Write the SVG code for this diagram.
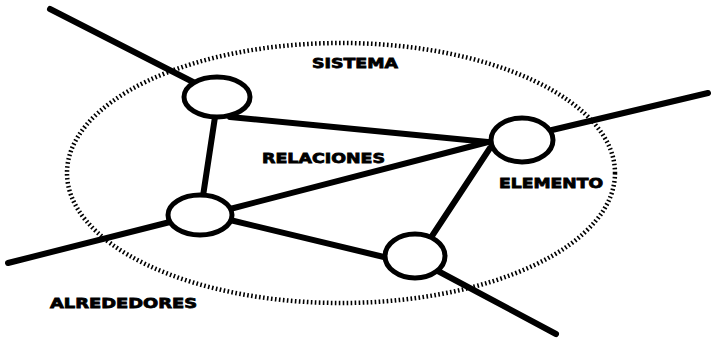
<svg xmlns="http://www.w3.org/2000/svg" width="714" height="339" viewBox="0 0 714 339">
<style>
.bg{fill:#fff}
.sys{fill:none;stroke:#000;stroke-width:4.5;stroke-dasharray:1.6 2.4}
.c{stroke:#000;stroke-width:6;stroke-linecap:round;fill:none}
.n{fill:#fff;stroke:#000;stroke-width:5}
.t{font-family:"DejaVu Sans","Liberation Sans",sans-serif;font-weight:bold;font-size:14px;fill:#000;stroke:#000;stroke-width:0.8}
</style>
<rect class="bg" x="0" y="0" width="714" height="339"/>
<g id="sistema">
<ellipse class="sys" cx="341" cy="173" rx="274" ry="130"/>
<text class="t" x="312" y="68" textLength="86" lengthAdjust="spacingAndGlyphs">SISTEMA</text>
</g>
<g id="connectors">
<line class="c" x1="50" y1="9" x2="195" y2="83"/>
<line class="c" x1="230" y1="117" x2="488" y2="142"/>
<line class="c" x1="215" y1="117" x2="203" y2="196"/>
<line class="c" x1="230" y1="209" x2="488" y2="142"/>
<line class="c" x1="230" y1="220" x2="388" y2="258"/>
<line class="c" x1="490" y1="148" x2="432" y2="236"/>
<line class="c" x1="436" y1="270" x2="556" y2="334"/>
<line class="c" x1="552" y1="130" x2="708" y2="93"/>
<line class="c" x1="170" y1="222" x2="8" y2="263"/>
</g>
<g id="node-1"><ellipse class="n" cx="217" cy="97" rx="33" ry="20"/></g>
<g id="node-elemento"><ellipse class="n" cx="522" cy="140" rx="31" ry="22"/></g>
<g id="node-3"><ellipse class="n" cx="200" cy="215" rx="32" ry="20"/></g>
<g id="node-4"><ellipse class="n" cx="415" cy="256" rx="30" ry="22"/></g>
<g id="labels">
<text class="t" x="262" y="163" textLength="123" lengthAdjust="spacingAndGlyphs">RELACIONES</text>
<text class="t" x="499" y="188" textLength="104" lengthAdjust="spacingAndGlyphs">ELEMENTO</text>
<text class="t" x="50" y="308" textLength="147" lengthAdjust="spacingAndGlyphs">ALREDEDORES</text>
</g>
</svg>
